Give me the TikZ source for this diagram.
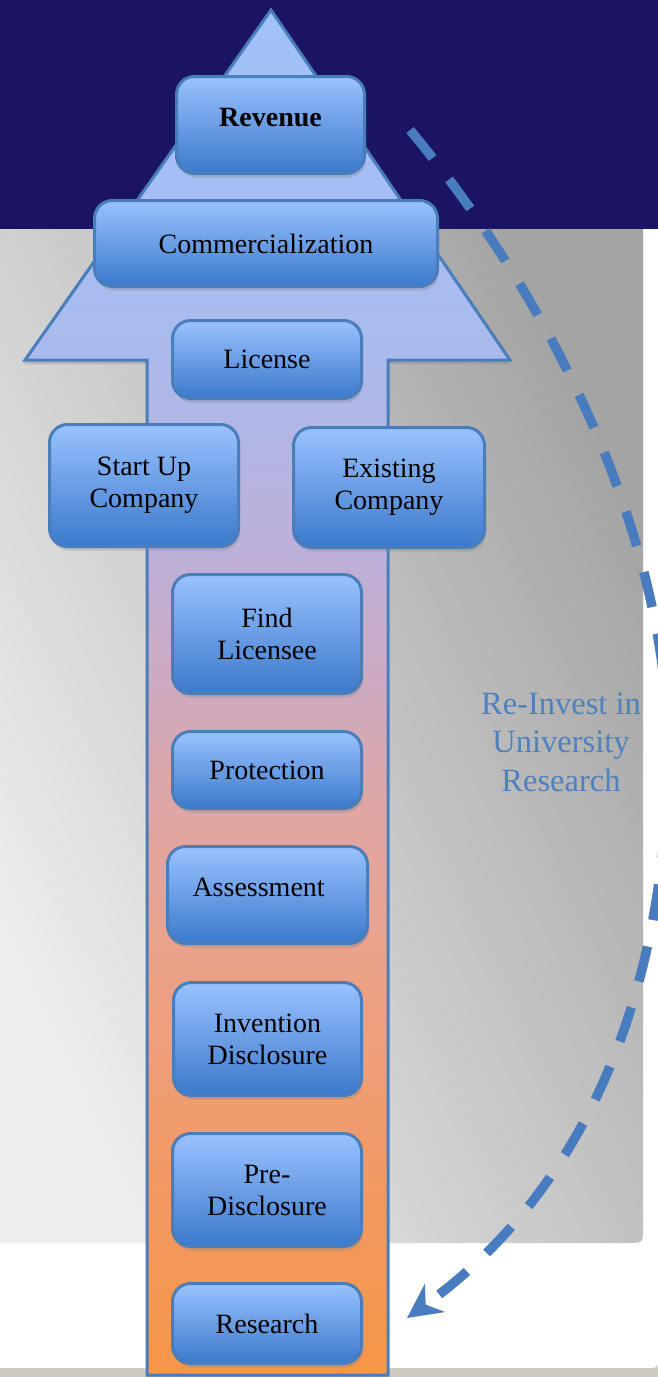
\documentclass[tikz,border=0pt]{standalone}
\usepackage{fontspec}
\setmainfont{Liberation Serif}
\usetikzlibrary{positioning,arrows.meta,shadows}

\definecolor{navyband}{RGB}{27,20,100}
\definecolor{panellight}{RGB}{238,238,238}
\definecolor{paneldark}{RGB}{164,164,164}
\definecolor{footer}{RGB}{206,203,193}
\definecolor{stageline}{RGB}{74,126,187}
\definecolor{boxtop}{RGB}{153,194,255}
\definecolor{boxbot}{RGB}{60,121,203}
\definecolor{loopblue}{RGB}{72,124,190}
\definecolor{notecol}{RGB}{79,129,189}
% colours of the big arrow, bottom to top
\definecolor{fadeA}{RGB}{246,150,72}
\definecolor{fadeB}{RGB}{242,153,98}
\definecolor{fadeC}{RGB}{237,160,130}
\definecolor{fadeD}{RGB}{224,166,163}
\definecolor{fadeE}{RGB}{207,170,190}
\definecolor{fadeF}{RGB}{190,176,216}
\definecolor{fadeG}{RGB}{171,186,236}
\definecolor{fadeH}{RGB}{160,193,250}
\pgfdeclareverticalshading{arrowfade}{100bp}{color(0bp)=(fadeA); color(25bp)=(fadeA);
  color(31.5bp)=(fadeB); color(38.8bp)=(fadeC); color(45.4bp)=(fadeD);
  color(49.8bp)=(fadeE); color(54.9bp)=(fadeF); color(62.2bp)=(fadeG);
  color(75bp)=(fadeH); color(100bp)=(fadeH)}

\begin{document}
\begin{tikzpicture}[x=1pt, y=-1pt,
  stage/.style={draw=stageline, line width=3pt, rounded corners=18pt,
    top color=boxtop, bottom color=boxbot, align=center, inner sep=4pt,
    font=\fontsize{28}{32}\selectfont,
    drop shadow={shadow xshift=1.5pt, shadow yshift=-4pt, opacity=.3}},
  raised/.style={text height=19pt, text depth=16pt},
  reinvest/.style={draw=loopblue, line width=9.5pt, dash pattern=on 36pt off 27pt,
    -{Stealth[length=34pt,width=34pt]}},
  shadowed/.style={drop shadow={shadow xshift=-1pt, shadow yshift=-4pt, opacity=.35}}]
  \useasboundingbox (0,0) rectangle (658,1377);
  \clip (0,0) rectangle (658,1377);

  % backdrop
  \fill[footer] (0,1360) rectangle (658,1377);
  \fill[white] (0,229) -- (658,229) -- (658,1356)
    .. controls (658,1368) .. (646,1368) -- (0,1368) -- cycle;
  \fill[navyband] (0,0) rectangle (658,229);
  \shade[left color=panellight, right color=paneldark, shading angle=115]
    (0,229) -- (643,229) -- (643,1228) .. controls (643,1243) .. (628,1243)
    -- (0,1243) -- cycle;

  % the arrow
  \draw[stageline, line width=3pt, shading=arrowfade, shadowed]
    (271,10) -- (510,360) -- (388,360) -- (388,1375) -- (147,1375)
    -- (147,360) -- (25,360) -- cycle;

  % stages
  \node (rev) [stage, raised, minimum width=188pt, minimum height=97pt] at (270.5,125) {\bfseries Revenue};
  \node (com) [stage, minimum width=343pt, minimum height=86pt] at (266,243.5) {Commercialization};
  \node (lic) [stage, minimum width=189pt, minimum height=78pt] at (267,359.5) {License};
  \node (sup) [stage, minimum width=189pt, minimum height=122pt] at (144,485.5) {Start Up\\Company};
  \node (exi) [stage, minimum width=191pt, minimum height=120pt] at (389,487.5) {Existing\\Company};
  \node (fnd) [stage, minimum width=189pt, minimum height=119pt] at (267,634) {Find\\Licensee};
  \node (pro) [stage, minimum width=189pt, minimum height=77pt] at (267,770) {Protection};
  \node (ass) [stage, raised, text width=150pt, align=left,
    minimum width=200pt, minimum height=97pt] at (267.5,895) {Assessment};
  \node (inv) [stage, minimum width=188pt, minimum height=113pt] at (267.5,1039) {Invention\\Disclosure};
  \node (pre) [stage, minimum width=189pt, minimum height=113pt] at (267,1190) {Pre-\\Disclosure};
  \node (res) [stage, minimum width=189pt, minimum height=80pt] at (267,1323.5) {Research};

  % money flows back to research
  \coordinate (loopin) at ([xshift=44pt, yshift=-5pt]rev.east);
  \coordinate (loopout) at ([xshift=44pt, yshift=5.5pt]res.east);
  \draw[reinvest] (loopin) .. controls (564,315) and (668,550) .. (668,750)
    .. controls (668,950) and (609,1173) .. (loopout);

  \node (note) [notecol, align=center, font=\fontsize{32.5}{38.5}\selectfont]
    at (561,742) {Re-Invest in\\University\\Research};
\end{tikzpicture}
\end{document}
